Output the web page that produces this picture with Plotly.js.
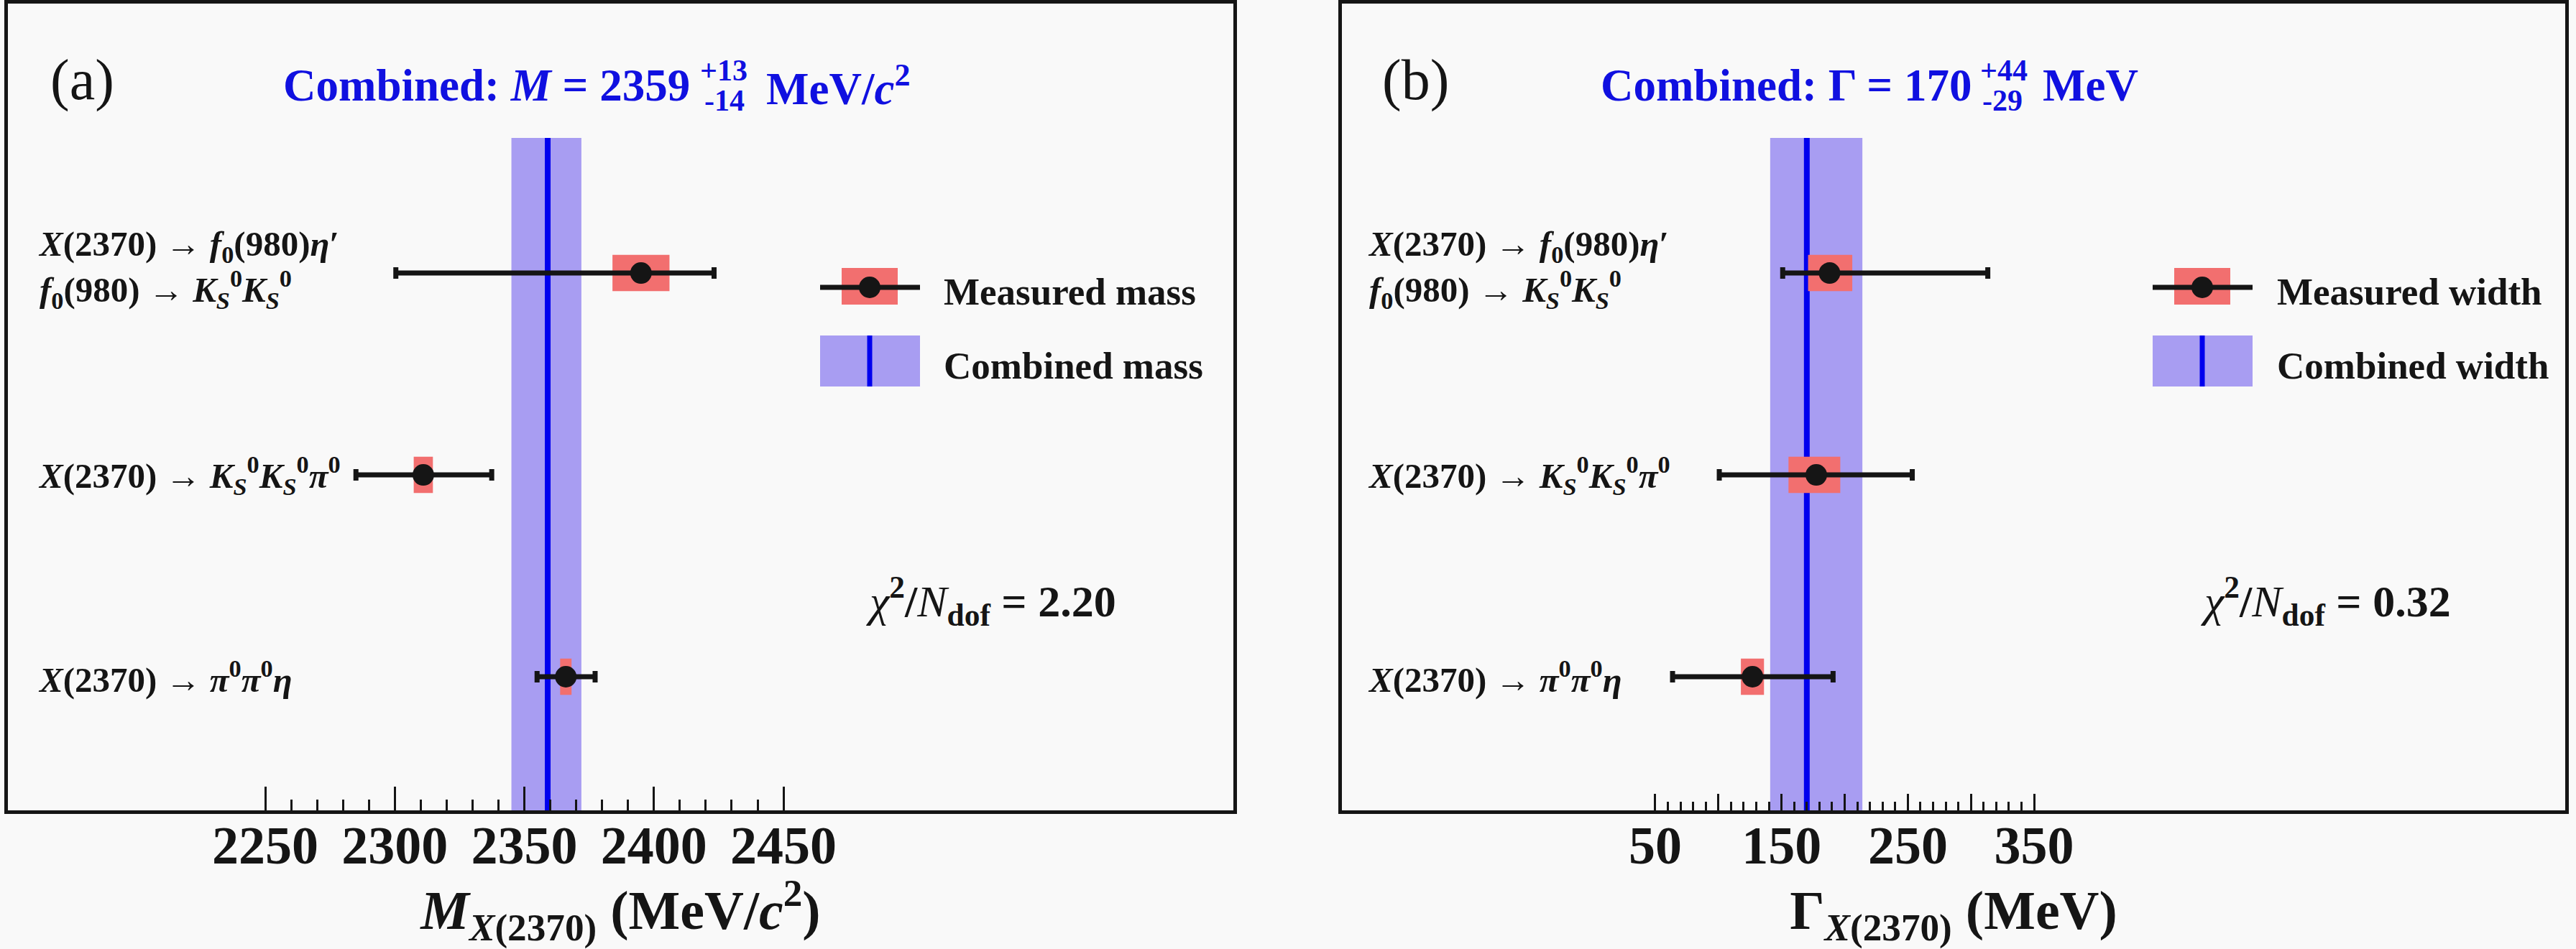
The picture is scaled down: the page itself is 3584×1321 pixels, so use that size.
<!DOCTYPE html>
<html>
<head>
<meta charset="utf-8">
<script src="https://cdn.plot.ly/plotly-3.0.1.min.js"></script>
<style>
  html, body { margin: 0; padding: 0; background: #f9f9f9; }
  #chart { width: 3584px; height: 1321px; }
</style>
</head>
<body>
<div id="chart"></div>
<script>
const W = 3584;
const H = 1321;
const FONT = "Liberation Serif, Times New Roman, serif";
const BLACK = "#151515";
const TITLE_BLUE = "#1010e0";
const BAND_COLOR = "#a89df2";
const LINE_BLUE = "#0000ee";
const STAT_RED = "#f26f6f";

// decay channels, top to bottom
const channelLabels = [
  "<i>X</i>(2370) → <i>f</i><sub>0</sub>(980)<i>η</i>′<br><i>f</i><sub>0</sub>(980) → <i>K</i><sub><i>S</i></sub><sup>0</sup><i>K</i><sub><i>S</i></sub><sup>0</sup>",
  "<i>X</i>(2370) → <i>K</i><sub><i>S</i></sub><sup>0</sup><i>K</i><sub><i>S</i></sub><sup>0</sup><i>π</i><sup>0</sup>",
  "<i>X</i>(2370) → <i>π</i><sup>0</sup><i>π</i><sup>0</sup><i>η</i>"
];

// (a) masses, MeV/c^2
const massValues = [2395, 2311, 2366];
const massStatLo = [11, 3.7, 2.2];
const massStatHi = [11, 3.7, 2.2];
const massTotLo = [94.6, 26.0, 11.1];
const massTotHi = [28.2, 26.4, 11.3];
const massCombined = 2359;
const massCombinedHi = 13;
const massCombinedLo = 14;
const massChi2 = "2.20";
const massTicks = [2250, 2300, 2350, 2400, 2450];
const massTickText = ["2250", "2300", "2350", "2400", "2450"];

// (b) widths, MeV
const widthValues = [188, 177.5, 127];
const widthStatLo = [17, 22, 9.2];
const widthStatHi = [18, 19, 9.1];
const widthTotLo = [37.1, 76.8, 63.3];
const widthTotHi = [125.3, 76.0, 63.8];
const widthCombined = 170;
const widthCombinedHi = 44;
const widthCombinedLo = 29;
const widthChi2 = "0.32";
const widthTicks = [50, 100, 150, 200, 250, 300, 350];
const widthTickText = ["50", "", "150", "", "250", "", "350"];

const rowY = channelLabels.map((_, i) => channelLabels.length - i);
const Y_RANGE = [0.338, 4.335];
const BAND_TOP = 3.669;

const px = (p) => p / W;
const py = (p) => 1 - p / H;

const minorBetween = (majors, step) => {
  const out = [];
  for (let i = 0; i < majors.length - 1; i += 1) {
    for (let v = majors[i] + step; v < majors[i + 1] - 1e-6; v += step) {
      out.push(v);
    }
  }
  return out;
};

const panelTraces = (values, statLo, statHi, totLo, totHi, xa, ya) => [
  {
    type: "bar",
    orientation: "h",
    y: rowY,
    x: values.map((_, i) => statLo[i] + statHi[i]),
    base: values.map((v, i) => v - statLo[i]),
    width: 0.18,
    marker: { color: STAT_RED, line: { width: 0 } },
    xaxis: xa,
    yaxis: ya,
    hoverinfo: "skip"
  },
  {
    type: "scatter",
    mode: "markers",
    x: values,
    y: rowY,
    marker: { size: 30, color: BLACK },
    error_x: {
      type: "data",
      symmetric: false,
      array: totHi,
      arrayminus: totLo,
      color: BLACK,
      thickness: 7,
      width: 8
    },
    xaxis: xa,
    yaxis: ya
  }
];

const bandShapes = (center, lo, hi, xr, yr) => [
  {
    type: "rect", xref: xr, yref: yr, layer: "below",
    x0: center - lo, x1: center + hi, y0: Y_RANGE[0], y1: BAND_TOP,
    fillcolor: BAND_COLOR, line: { width: 0 }
  },
  {
    type: "line", xref: xr, yref: yr, layer: "below",
    x0: center, x1: center, y0: Y_RANGE[0], y1: BAND_TOP,
    line: { color: LINE_BLUE, width: 8 }
  }
];

// legend keys drawn by hand, in pixel positions of the page
const legendShapes = (x0) => {
  const x1 = x0 + 139;
  const xc = x0 + 69;
  return [
    { type: "rect", xref: "paper", yref: "paper", x0: px(xc - 39), x1: px(xc + 39),
      y0: py(424), y1: py(373), fillcolor: STAT_RED, line: { width: 0 } },
    { type: "line", xref: "paper", yref: "paper", x0: px(x0), x1: px(x1),
      y0: py(400), y1: py(400), line: { color: BLACK, width: 7 } },
    { type: "circle", xref: "paper", yref: "paper", x0: px(xc - 15), x1: px(xc + 15),
      y0: py(415), y1: py(385), fillcolor: BLACK, line: { width: 0 } },
    { type: "rect", xref: "paper", yref: "paper", x0: px(x0), x1: px(x1),
      y0: py(538), y1: py(467), fillcolor: BAND_COLOR, line: { width: 0 } },
    { type: "line", xref: "paper", yref: "paper", x0: px(xc), x1: px(xc),
      y0: py(538), y1: py(467), line: { color: LINE_BLUE, width: 7 } }
  ];
};

const textAt = (text, x, y, size, extra = {}) => Object.assign({
  text, xref: "paper", yref: "paper", x: px(x), y: py(y),
  xanchor: "left", yanchor: "middle", showarrow: false,
  font: { family: FONT, size, color: BLACK, weight: "bold" }
}, extra);

const blueFont = (size) => ({ font: { family: FONT, size, color: TITLE_BLUE, weight: "bold" } });

const panelAnnotations = (o) => {
  const list = [
    textAt(o.tag, o.tagX, 112, 80, { font: { family: FONT, size: 80, color: BLACK, weight: "normal" } }),
    textAt(o.title, o.titleEnd, 119, 63, Object.assign({ xanchor: "right" }, blueFont(63))),
    textAt(`+${o.hi}`, o.supX, 98, 42, blueFont(42)),
    textAt(`-${o.lo}`, o.subX, 140, 42, blueFont(42)),
    textAt(o.unit, o.unitX, 119, 63, blueFont(63)),
    textAt(o.measured, o.legendX, 406, 53),
    textAt(o.combined, o.legendX, 509, 53),
    textAt(`<span style="font-weight:normal"><i>χ</i></span><sup>2</sup>/<span style="font-weight:normal"><i>N</i></span><sub>dof</sub> = ${o.chi2}`,
      o.chiX, 836, 62)
  ];
  channelLabels.forEach((label, i) => {
    list.push({
      text: label, xref: "paper", yref: o.yref, x: px(o.labelX), y: rowY[i],
      xanchor: "left", yanchor: "middle", showarrow: false, align: "left",
      yshift: i === 0 ? 6 : 0,
      font: { family: FONT, size: 49, color: BLACK, weight: "bold" }
    });
  });
  return list;
};

const axisX = (domain, range, ticks, tickText, major, minor, title) => ({
  domain,
  range,
  showline: true,
  linewidth: 5,
  linecolor: BLACK,
  mirror: true,
  showgrid: false,
  zeroline: false,
  ticks: "inside",
  ticklen: major,
  tickwidth: 3,
  tickcolor: BLACK,
  tickmode: "array",
  tickvals: ticks,
  ticktext: tickText,
  ticklabelstandoff: -20,
  tickfont: { family: FONT, size: 74, color: BLACK, weight: "bold" },
  minor: {
    tickmode: "array",
    tickvals: minorBetween(ticks, 10),
    ticks: "inside",
    ticklen: minor,
    tickwidth: 3,
    tickcolor: BLACK,
    showgrid: false
  },
  title: { text: title, standoff: 30, font: { family: FONT, size: 76, color: BLACK, weight: "bold" } }
});

const axisY = (anchor) => ({
  domain: [py(1128), py(5)],
  range: Y_RANGE,
  anchor,
  showline: true,
  linewidth: 5,
  linecolor: BLACK,
  mirror: true,
  showgrid: false,
  zeroline: false,
  ticks: "",
  showticklabels: false
});

const data = [
  ...panelTraces(massValues, massStatLo, massStatHi, massTotLo, massTotHi, "x", "y"),
  ...panelTraces(widthValues, widthStatLo, widthStatHi, widthTotLo, widthTotHi, "x2", "y2")
];

const layout = {
  width: W,
  height: H,
  margin: { l: 0, r: 0, t: 0, b: 0 },
  paper_bgcolor: "#f9f9f9",
  plot_bgcolor: "#f9f9f9",
  showlegend: false,
  barmode: "overlay",
  xaxis: Object.assign(
    axisX([px(11), px(1716)], [2150.7, 2623.6], massTicks, massTickText, 33, 15,
      "<i>M</i><sub><i>X</i>(2370)</sub> (MeV/<i>c</i><sup>2</sup>)"),
    { anchor: "y" }
  ),
  yaxis: axisY("x"),
  xaxis2: Object.assign(
    axisX([px(1867), px(3569)], [-198.1, 770.5], widthTicks, widthTickText, 23, 12,
      "Γ<sub><i>X</i>(2370)</sub> (MeV)"),
    { anchor: "y2" }
  ),
  yaxis2: axisY("x2"),
  shapes: [
    ...bandShapes(massCombined, massCombinedLo, massCombinedHi, "x", "y"),
    ...bandShapes(widthCombined, widthCombinedLo, widthCombinedHi, "x2", "y2"),
    ...legendShapes(1141),
    ...legendShapes(2995)
  ],
  annotations: [
    ...panelAnnotations({
      tag: "(a)", tagX: 68,
      title: "Combined: <i>M</i> = 2359", titleEnd: 962,
      hi: massCombinedHi, lo: massCombinedLo, supX: 972, subX: 978,
      unit: "MeV/<i>c</i><sup>2</sup>", unitX: 1064,
      measured: "Measured mass", combined: "Combined mass", legendX: 1311,
      chi2: massChi2, chiX: 1203, labelX: 51, yref: "y"
    }),
    ...panelAnnotations({
      tag: "(b)", tagX: 1921,
      title: "Combined: Γ = 170", titleEnd: 2745,
      hi: widthCombinedHi, lo: widthCombinedLo, supX: 2753, subX: 2756,
      unit: "MeV", unitX: 2840,
      measured: "Measured width", combined: "Combined width", legendX: 3166,
      chi2: widthChi2, chiX: 3060, labelX: 1901, yref: "y2"
    })
  ]
};

Plotly.newPlot("chart", data, layout, { displayModeBar: false, staticPlot: true });
</script>
</body>
</html>
